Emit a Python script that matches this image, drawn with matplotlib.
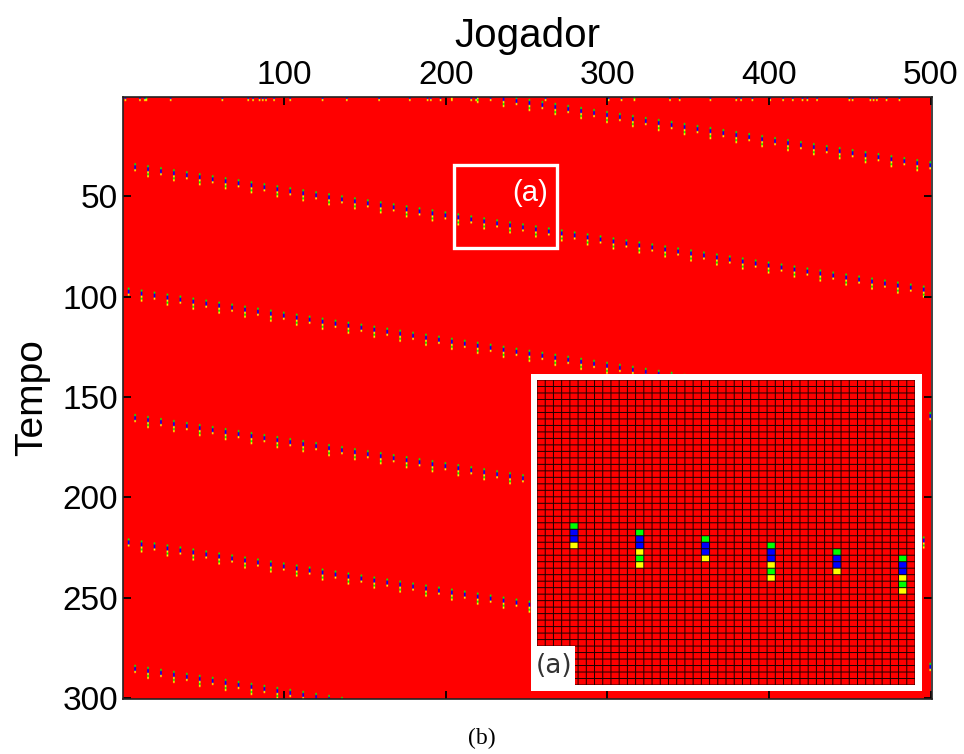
import numpy as np
import matplotlib.pyplot as plt
from matplotlib.colors import ListedColormap
from matplotlib.patches import Rectangle

plt.rcParams['font.family'] = ['Liberation Sans', 'DejaVu Sans']

#%% dados
n_tempo = 300
n_jogadores = 500

# estados: vermelho, azul, verde, amarelo
cores = ['#ff0000', '#0000ff', '#00ff00', '#ffff00']
codigo = {'R': 0, 'B': 1, 'G': 2, 'Y': 3}

# marcas da condição inicial (tempo 1-2)
jogadores_iniciais = [2, 11, 14, 15, 30, 62, 78, 81, 85, 87, 89, 94, 104, 124,
                      139, 159, 178, 189, 191, 197, 204, 216, 219, 262, 301,
                      309, 317, 339, 345, 364, 380, 383, 390, 401, 409, 415,
                      421, 424, 430, 450, 452, 463, 465, 467, 473, 481]
jogadores_iniciais_verdes = [15, 317]

# frente de onda: cada passagem começa num jogador/tempo
passe_jogador_inicial = [4, 8, 4, 8, 4, 8]
passe_tempo_inicial = [-29, 34, 96, 159, 221, 284]
passe_n_marcas = [63, 62, 63, 62, 63, 62]
espaco_marcas = 8
padroes_marca = ['GBBY', 'GBBYGY']

# detalhe (a)
inset_n_col = 46
inset_n_lin = 47
inset_colunas = [4, 12, 20, 28, 36, 44]
inset_linhas = [22, 23, 24, 25, 26, 27]
inset_padroes = ['GBBY', 'GBBYGY', 'GBBY', 'GBBYGY', 'GBBY', 'GBBYGY']

xticks = [100, 200, 300, 400, 500]
yticks = [50, 100, 150, 200, 250, 300]


def marca(g, lin, col, padrao):
    for k, c in enumerate(padrao):
        r = lin + k
        if 0 <= r < g.shape[0] and 0 <= col < g.shape[1]:
            g[r, col] = codigo[c]


#%% montar grades
grade = np.zeros((n_tempo, n_jogadores), dtype=int)
for j in jogadores_iniciais:
    marca(grade, 0, j - 1, 'GY' if j in jogadores_iniciais_verdes else 'BY')

for j0, t0, n in zip(passe_jogador_inicial, passe_tempo_inicial, passe_n_marcas):
    for k in range(n):
        marca(grade, t0 - 1 + k, j0 - 1 + espaco_marcas * k, padroes_marca[k % 2])

grade_inset = np.zeros((inset_n_lin, inset_n_col), dtype=int)
for c, l, p in zip(inset_colunas, inset_linhas, inset_padroes):
    marca(grade_inset, l, c, p)

cmap = ListedColormap(cores)

#%% figura
W, H = 964, 754
fig = plt.figure(figsize=(W / 100, H / 100), dpi=100)
ax = fig.add_axes([123.5 / W, 1 - 699 / H, 808 / W, 602 / H])
ax.imshow(grade, cmap=cmap, vmin=-0.5, vmax=3.5, aspect='auto',
          extent=(0.5, n_jogadores + 0.5, n_tempo + 0.5, 0.5))

ax.set_xticks(xticks)
ax.set_yticks(yticks)
ax.tick_params(direction='in', length=5.5, width=1.3, labelsize=24,
               top=True, bottom=True, left=True, right=True,
               labeltop=True, labelbottom=False, pad=4)
ax.xaxis.set_label_position('top')
ax.set_xlabel('Jogador', fontsize=29, labelpad=10)
ax.set_ylabel('Tempo', fontsize=28, labelpad=9)
for s in ax.spines.values():
    s.set_linewidth(1.2)
    s.set_color('#222222')

# caixa (a)
ax.add_patch(Rectangle((205, 34.5), 64, 41, fill=False, edgecolor='white', lw=2.4))
ax.text(252, 48.5, '(a)', color='white', fontsize=21, ha='center', va='center')

# detalhe
fig.add_artist(Rectangle((531 / W, 1 - 691 / H), 391 / W, 317 / H,
                         transform=fig.transFigure, facecolor='white',
                         edgecolor='none', zorder=5))
axins = fig.add_axes([537 / W, 1 - 685 / H, 378 / W, 305 / H])
axins.set_zorder(10)
axins.imshow(grade_inset, cmap=cmap, vmin=-0.5, vmax=3.5, aspect='auto',
             interpolation='nearest', extent=(0, inset_n_col, inset_n_lin, 0))
axins.vlines(np.arange(inset_n_col + 1), 0, inset_n_lin, color='#1a0000',
             lw=0.7, snap=False, antialiased=True)
axins.hlines(np.arange(inset_n_lin + 1), 0, inset_n_col, color='#1a0000',
             lw=0.7, snap=False, antialiased=True)
axins.set_xlim(0, inset_n_col)
axins.set_ylim(inset_n_lin, 0)
axins.axis('off')

fig.add_artist(Rectangle((531 / W, 1 - 685 / H), 44 / W, 39 / H,
                         transform=fig.transFigure, facecolor='white',
                         edgecolor='none', zorder=11))
fig.text(554.5 / W, 1 - 666 / H, '(a)', fontsize=19, color='#333333',
         family='DejaVu Sans', ha='center', va='center', zorder=12)

fig.text(0.5, 1 - 738 / H, '(b)', fontsize=17, family='Liberation Serif',
         ha='center', va='center')

fig.savefig('out.png', dpi=100)
